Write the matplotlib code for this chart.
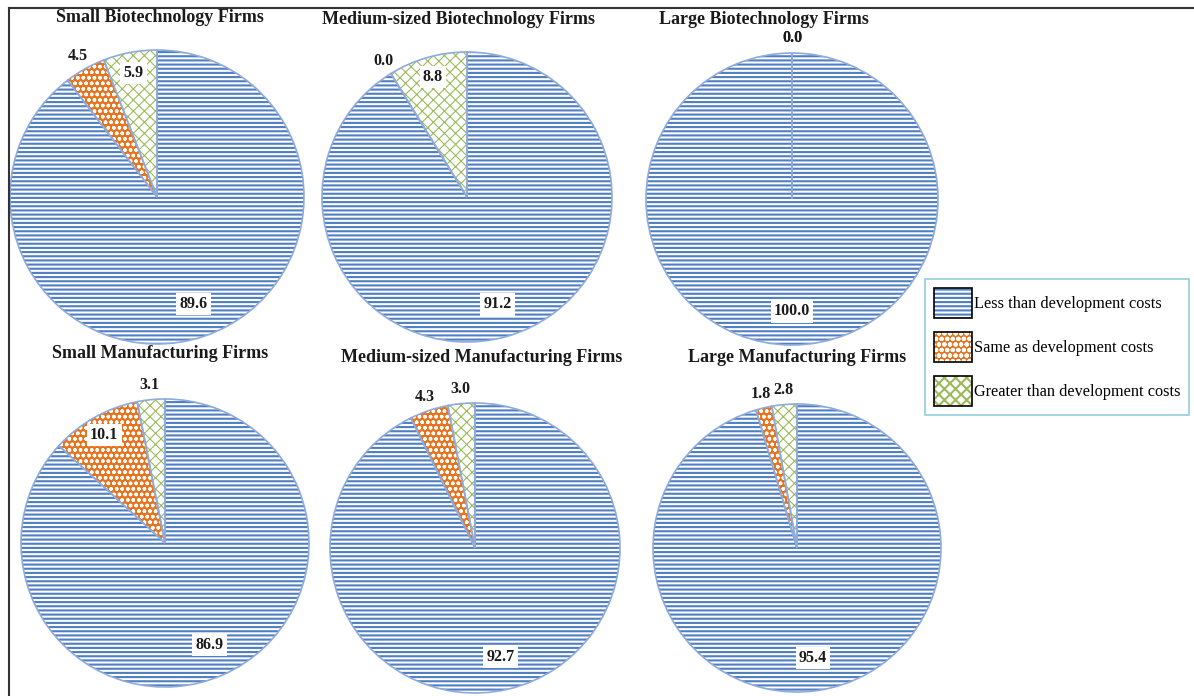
import numpy as np
import matplotlib
matplotlib.use("Agg")
import matplotlib.pyplot as plt
from matplotlib.patches import Patch
from matplotlib.lines import Line2D
from matplotlib.legend_handler import HandlerTuple

plt.rcParams['font.family'] = ['Liberation Serif', 'DejaVu Serif']
plt.rcParams['hatch.linewidth'] = 1.5

# data (percent of firms)
firms = ["Small Biotechnology Firms", "Medium-sized Biotechnology Firms", "Large Biotechnology Firms",
         "Small Manufacturing Firms", "Medium-sized Manufacturing Firms", "Large Manufacturing Firms"]
less = [89.6, 91.2, 100.0, 86.9, 92.7, 95.4]
same = [4.5, 0.0, 0.0, 10.1, 4.3, 1.8]
greater = [5.9, 8.8, 0.0, 3.1, 3.0, 2.8]
cats = ["Less than development costs", "Same as development costs", "Greater than development costs"]

# fill styles: (face, hatch colour, hatch, hatch width)
styles = [('white', '#4F7FC0', '----', 1.5),
          ('#E8731C', 'white', 'ooo', 1.0),
          ('white', '#9BBB59', 'xxx', 0.8)]
outline = '#8FAADC'

W, H = 1194, 696
fig = plt.figure(figsize=(W / 100, H / 100), dpi=100)


def fill_patch(p, st):
    fc, hc, h, hw = st
    p.set_facecolor(fc)
    p.set_edgecolor(hc)
    p.set_hatch(h)
    p.set_linewidth(0)
    if hasattr(p, 'set_hatch_linewidth'):
        p.set_hatch_linewidth(hw)


# pie layout in pixels: centre x, centre y, radius
layout = [(157, 197, 147), (467, 197, 145), (792, 199, 146),
          (165, 543, 144), (475, 548, 145), (797, 548, 144)]
title_pos = [(160, 18), (458, 20), (764, 20), (160, 354), (482, 357), (797, 357)]

for i in range(len(firms)):
    cx, cy, r = layout[i]
    ax = fig.add_axes([(cx - r) / W, 1 - (cy + r) / H, 2 * r / W, 2 * r / H])
    vals = [less[i], same[i], greater[i]]
    wedges, _ = ax.pie(vals, startangle=90, counterclock=False, radius=1)
    for w, st in zip(wedges, styles):
        fill_patch(w, st)
    # outline pass
    ax.pie(vals, startangle=90, counterclock=False, radius=1,
           wedgeprops=dict(fill=False, edgecolor=outline, linewidth=1.2))
    for w, v in zip(wedges, vals):
        th = np.deg2rad((w.theta1 + w.theta2) / 2)
        if v >= 50:
            d, box = 0.77, True
        elif v >= 5:
            d, box = 0.86, True
        else:
            d, box = 1.1, False
        kw = dict(boxstyle='square,pad=0.2', fc='white', ec='none') if box else None
        ax.text(d * np.cos(th), d * np.sin(th), "%.1f" % v, ha='center', va='center',
                fontsize=11.5, fontweight='bold', bbox=kw, color='#1a1a1a')
    ax.set_xlim(-1, 1)
    ax.set_ylim(-1, 1)
    ax.set_aspect('equal')
    ax.axis('off')
    tx, ty = title_pos[i]
    fig.text(tx / W, 1 - ty / H, firms[i], ha='center', va='center',
             fontsize=13, fontweight='bold', color='#1a1a1a')

# legend
handles = []
for st in styles:
    p = Patch()
    fill_patch(p, st)
    handles.append((p, Patch(fill=False, edgecolor='black', linewidth=1.2)))
leg = fig.legend(handles, cats, handler_map={tuple: HandlerTuple(ndivide=1, pad=0)},
                 loc='center', bbox_to_anchor=(924 / W, 1 - 418 / H, 266 / W, 142 / H),
                 fontsize=11.7, handlelength=2.35, handleheight=2.45, labelspacing=0.88,
                 handletextpad=0.12, borderpad=0.55, borderaxespad=0, fancybox=False, framealpha=1)
leg.get_frame().set_edgecolor('#92CDDC')
leg.get_frame().set_linewidth(1.2)

# page frame
fig.add_artist(Line2D([9 / W, 1], [1 - 8 / H, 1 - 8 / H], transform=fig.transFigure, color='#333333', lw=1.5))
fig.add_artist(Line2D([9 / W, 9 / W], [0, 1 - 8 / H], transform=fig.transFigure, color='#333333', lw=1.5))

fig.savefig("out.png", dpi=100)
